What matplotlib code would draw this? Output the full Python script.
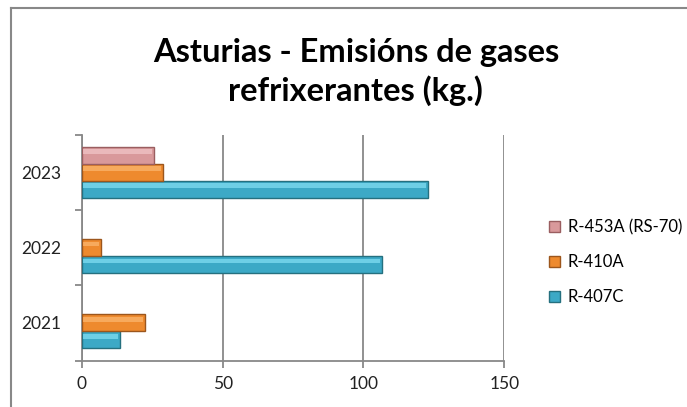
import numpy as np
import matplotlib
matplotlib.use('Agg')
import matplotlib.pyplot as plt
from matplotlib.lines import Line2D
from matplotlib.patches import Patch

plt.rcParams['font.family'] = ['Lato', 'DejaVu Sans']

# datos
anos = ['2021', '2022', '2023']
r407c = [13.5, 106.6, 122.9]
r410a = [22.4, 6.7, 28.7]
r453a = [0, 0, 25.7]

series = ['R-407C', 'R-410A', 'R-453A (RS-70)']
cores = ['#3CA9C6', '#EE8A2E', '#D9999B']
bordes = ['#25707F', '#9C561C', '#9A5E60']
luz = ['#7FDDF2', '#FBB56E', '#F0C4C6']

fig = plt.figure(figsize=(6.87, 4.07), dpi=100)
ax = fig.add_axes([0.119, 0.114, 0.615, 0.555])

y = np.arange(len(anos))
alto = 0.225
valores = [r407c, r410a, r453a]

for i, vals in enumerate(valores):
    pos = y + (i - 1) * alto
    for p, v in zip(pos, vals):
        if v <= 0:
            continue
        ax.barh(p, v, height=alto, color=cores[i], edgecolor=bordes[i], linewidth=1.0, zorder=3)
        # brillo superior (efecto 3D)
        ax.barh(p + alto * 0.22, v - 1.2, left=0.6, height=alto * 0.28, color=luz[i],
                linewidth=0, alpha=0.75, zorder=4)

ax.set_xlim(0, 150)
ax.set_ylim(-0.5, 2.5)
ax.set_xticks([0, 50, 100, 150])
ax.set_yticks(y)
ax.set_yticklabels(anos)
ax.set_yticks([-0.5, 0.5, 1.5, 2.5], minor=True)

ax.tick_params(axis='y', which='major', length=0, pad=15, labelsize=12.5, labelcolor='#222222')
ax.tick_params(axis='y', which='minor', length=5, width=1.3, color='#888888', direction='out')
ax.tick_params(axis='x', length=5, width=1.3, color='#888888', direction='out', pad=6,
               labelsize=12.5, labelcolor='#222222')

ax.grid(axis='x', color='#888888', linewidth=1.3, zorder=0)
ax.set_axisbelow(True)
for lado in ['top', 'right']:
    ax.spines[lado].set_visible(False)
for lado in ['left', 'bottom']:
    ax.spines[lado].set_color('#888888')
    ax.spines[lado].set_linewidth(1.3)

# titulo
fig.text(0.518, 0.823, 'Asturias - Emisións de gases\nrefrixerantes (kg.)', ha='center', va='center',
         fontsize=23.5, fontweight='bold', linespacing=1.32)

# lenda
handles = [Patch(facecolor=cores[i], edgecolor=bordes[i]) for i in [2, 1, 0]]
etiquetas = [series[i] for i in [2, 1, 0]]
fig.legend(handles, etiquetas, loc='center left', bbox_to_anchor=(0.777, 0.356), frameon=False,
           fontsize=12, handlelength=0.65, handleheight=0.65, handletextpad=0.5, labelspacing=1.15)

# marco do grafico
fig.add_artist(Line2D([11 / 687, 11 / 687], [0, 1 - 8 / 407], color='#888888', linewidth=1.5))
fig.add_artist(Line2D([11 / 687, 1], [1 - 8 / 407, 1 - 8 / 407], color='#888888', linewidth=1.5))

plt.savefig('out.png', dpi=100)
